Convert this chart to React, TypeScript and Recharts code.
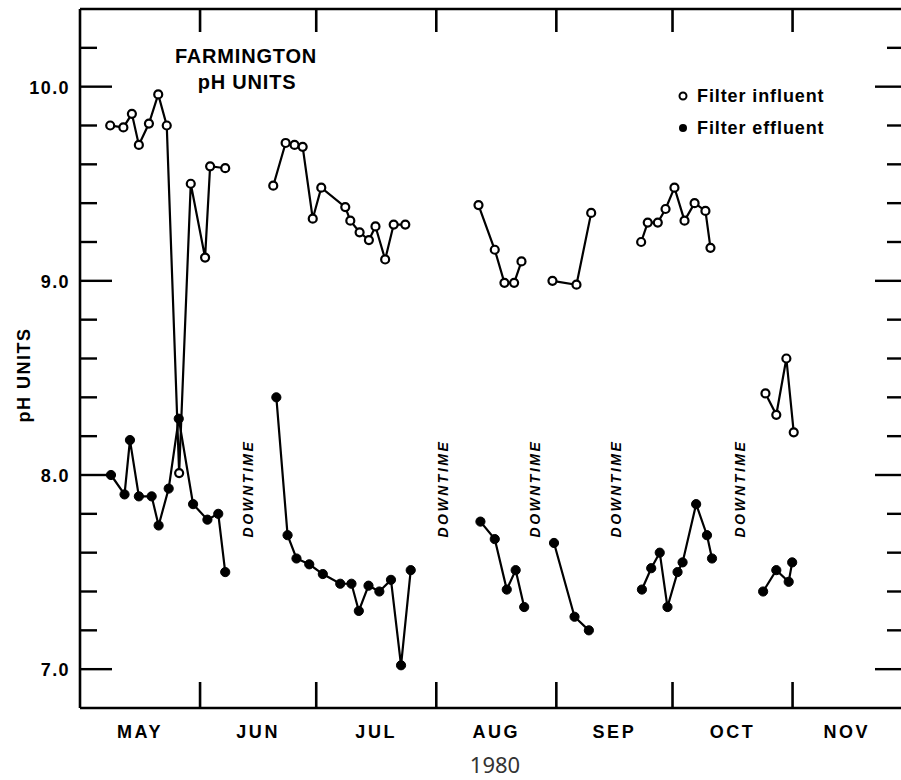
import React from 'react';
import { LineChart, Line, XAxis, YAxis, ReferenceLine, ReferenceDot } from 'recharts';

// ---- Data (day = days since May 1, 1980) ----
const influentMay = [
  { day: 7.8, ph: 9.8 }, { day: 11.2, ph: 9.79 }, { day: 13.4, ph: 9.86 }, { day: 15.2, ph: 9.7 },
  { day: 17.8, ph: 9.81 }, { day: 20.2, ph: 9.96 }, { day: 22.4, ph: 9.8 }, { day: 25.6, ph: 8.01 },
  { day: 28.6, ph: 9.5 }, { day: 32.3, ph: 9.12 }, { day: 33.6, ph: 9.59 }, { day: 37.5, ph: 9.58 },
];
const influentJunJul = [
  { day: 49.9, ph: 9.49 }, { day: 53.1, ph: 9.71 }, { day: 55.4, ph: 9.7 }, { day: 57.5, ph: 9.69 },
  { day: 60.1, ph: 9.32 }, { day: 62.3, ph: 9.48 }, { day: 68.5, ph: 9.38 }, { day: 69.8, ph: 9.31 },
  { day: 72.2, ph: 9.25 }, { day: 74.6, ph: 9.21 }, { day: 76.3, ph: 9.28 }, { day: 78.8, ph: 9.11 },
  { day: 81.0, ph: 9.29 }, { day: 84.0, ph: 9.29 },
];
const influentAug = [
  { day: 102.9, ph: 9.39 }, { day: 107.1, ph: 9.16 }, { day: 109.6, ph: 8.99 }, { day: 112.1, ph: 8.99 },
  { day: 114.0, ph: 9.1 },
];
const influentSep = [
  { day: 122.0, ph: 9.0 }, { day: 128.2, ph: 8.98 }, { day: 132.0, ph: 9.35 },
];
const influentSepOct = [
  { day: 144.9, ph: 9.2 }, { day: 146.6, ph: 9.3 }, { day: 149.2, ph: 9.3 }, { day: 151.2, ph: 9.37 },
  { day: 153.5, ph: 9.48 }, { day: 156.1, ph: 9.31 }, { day: 158.7, ph: 9.4 }, { day: 161.5, ph: 9.36 },
  { day: 162.8, ph: 9.17 },
];
const influentOct = [
  { day: 177.0, ph: 8.42 }, { day: 179.8, ph: 8.31 }, { day: 182.4, ph: 8.6 }, { day: 184.3, ph: 8.22 },
];

const effluentMay = [
  { day: 8.0, ph: 8.0 }, { day: 11.5, ph: 7.9 }, { day: 12.9, ph: 8.18 }, { day: 15.2, ph: 7.89 },
  { day: 18.5, ph: 7.89 }, { day: 20.3, ph: 7.74 }, { day: 22.9, ph: 7.93 }, { day: 25.5, ph: 8.29 },
  { day: 29.2, ph: 7.85 }, { day: 32.9, ph: 7.77 }, { day: 35.7, ph: 7.8 }, { day: 37.5, ph: 7.5 },
];
const effluentJunJul = [
  { day: 50.7, ph: 8.4 }, { day: 53.6, ph: 7.69 }, { day: 55.9, ph: 7.57 }, { day: 59.2, ph: 7.54 },
  { day: 62.7, ph: 7.49 }, { day: 67.2, ph: 7.44 }, { day: 70.1, ph: 7.44 }, { day: 72.0, ph: 7.3 },
  { day: 74.5, ph: 7.43 }, { day: 77.3, ph: 7.4 }, { day: 80.3, ph: 7.46 }, { day: 82.9, ph: 7.02 },
  { day: 85.4, ph: 7.51 },
];
const effluentAug = [
  { day: 103.4, ph: 7.76 }, { day: 107.1, ph: 7.67 }, { day: 110.2, ph: 7.41 }, { day: 112.5, ph: 7.51 },
  { day: 114.7, ph: 7.32 },
];
const effluentSep = [
  { day: 122.4, ph: 7.65 }, { day: 127.7, ph: 7.27 }, { day: 131.4, ph: 7.2 },
];
const effluentSepOct = [
  { day: 145.1, ph: 7.41 }, { day: 147.5, ph: 7.52 }, { day: 149.7, ph: 7.6 }, { day: 151.7, ph: 7.32 },
  { day: 154.3, ph: 7.5 }, { day: 155.6, ph: 7.55 }, { day: 159.1, ph: 7.85 }, { day: 161.9, ph: 7.69 },
  { day: 163.2, ph: 7.57 },
];
const effluentOct = [
  { day: 176.4, ph: 7.4 }, { day: 179.8, ph: 7.51 }, { day: 183.0, ph: 7.45 }, { day: 183.9, ph: 7.55 },
];

const influentSegments = [influentMay, influentJunJul, influentAug, influentSep, influentSepOct, influentOct];
const effluentSegments = [effluentMay, effluentJunJul, effluentAug, effluentSep, effluentSepOct, effluentOct];

const monthStarts = [31, 61, 92, 123, 153, 184];
const monthMids = [15.5, 46, 76.5, 107.5, 138, 168.5, 198];
const monthLabels = ['MAY', 'JUN', 'JUL', 'AUG', 'SEP', 'OCT', 'NOV'];
const xDomain = [0, 212];

const yTicks = [7.0, 7.2, 7.4, 7.6, 7.8, 8.0, 8.2, 8.4, 8.6, 8.8, 9.0, 9.2, 9.4, 9.6, 9.8, 10.0, 10.2];
const yLabelled = [7.0, 8.0, 9.0, 10.0];
const yDomain = [6.8, 10.4];

const downtimeDays = [43.4, 93.8, 117.6, 138.5, 170.5];
const downtimeLevel = 7.93;

// ---- Layout ----
const W = 901;
const H = 780;
const PLOT_TOP = 9;
const PLOT_RIGHT = 901;
const FONT = '"Liberation Sans", Arial, Helvetica, sans-serif';

const isLabelled = (v: number) => yLabelled.some((l) => Math.abs(l - v) < 1e-6);

const YTick = (props: any) => {
  const { x, y, payload } = props;
  const v = payload.value as number;
  const major = isLabelled(v);
  const lenL = major ? 32 : 17;
  const lenR = major ? 26 : 14;
  return (
    <g>
      <line x1={x} y1={y} x2={x + lenL} y2={y} stroke="#000" strokeWidth={2.4} />
      <line x1={PLOT_RIGHT - lenR} y1={y} x2={PLOT_RIGHT} y2={y} stroke="#000" strokeWidth={2.4} />
      {major && (
        <text x={x - 10} y={y + 7} textAnchor="end" fontFamily={FONT} fontWeight="bold" fontSize={18}
          letterSpacing={1.4} fill="#000">
          {v.toFixed(1)}
        </text>
      )}
    </g>
  );
};

const XTick = (props: any) => {
  const { x, y, payload } = props;
  const v = payload.value as number;
  const mi = monthMids.indexOf(v);
  if (mi >= 0) {
    return (
      <text x={x} y={y + 30} textAnchor="middle" fontFamily={FONT} fontWeight="bold" fontSize={18}
        letterSpacing={2.6} fill="#000">
        {monthLabels[mi]}
      </text>
    );
  }
  return (
    <g>
      <line x1={x} y1={y} x2={x} y2={y - 26} stroke="#000" strokeWidth={2.6} />
      <line x1={x} y1={PLOT_TOP} x2={x} y2={PLOT_TOP + 23} stroke="#000" strokeWidth={2.6} />
    </g>
  );
};

const DowntimeLabel = (props: any) => {
  const { cx, cy } = props;
  return (
    <text x={cx} y={cy} transform={`rotate(-90, ${cx}, ${cy})`} textAnchor="middle" dominantBaseline="central"
      fontFamily={FONT} fontWeight="bold" fontStyle="italic" fontSize={14} letterSpacing={2.5} fill="#000">
      DOWNTIME
    </text>
  );
};

export default function App() {
  return (
    <div style={{ position: 'absolute', left: 0, top: 0, width: W, height: H, background: '#fff' }}>
      <LineChart width={W} height={H} margin={{ top: PLOT_TOP, right: 0, bottom: 0, left: 0 }}>
        <XAxis
          type="number"
          dataKey="day"
          domain={xDomain}
          ticks={[...monthStarts, ...monthMids]}
          interval={0}
          height={72}
          tickSize={0}
          tickMargin={0}
          tick={<XTick />}
          axisLine={{ stroke: '#000', strokeWidth: 2.6 }}
          allowDataOverflow
        />
        <YAxis
          type="number"
          domain={yDomain}
          ticks={yTicks}
          interval={0}
          width={80}
          tickSize={0}
          tickMargin={0}
          tick={<YTick />}
          axisLine={{ stroke: '#000', strokeWidth: 2.6 }}
          allowDataOverflow
        />
        <ReferenceLine y={yDomain[1]} stroke="#000" strokeWidth={2.6} />
        {downtimeDays.map((d, i) => (
          <ReferenceDot key={`dt${i}`} x={d} y={downtimeLevel} r={0} shape={<DowntimeLabel />} />
        ))}
        {effluentSegments.map((seg, i) => (
          <Line
            key={`eff${i}`}
            data={seg}
            dataKey="ph"
            type="linear"
            stroke="#000"
            strokeWidth={2.2}
            dot={{ r: 4.6, fill: '#000', stroke: '#000', strokeWidth: 1 }}
            activeDot={false}
            isAnimationActive={false}
          />
        ))}
        {influentSegments.map((seg, i) => (
          <Line
            key={`inf${i}`}
            data={seg}
            dataKey="ph"
            type="linear"
            stroke="#000"
            strokeWidth={2.2}
            dot={{ r: 4, fill: '#fff', stroke: '#000', strokeWidth: 2.2 }}
            activeDot={false}
            isAnimationActive={false}
          />
        ))}
      </LineChart>
      <svg width={W} height={H} style={{ position: 'absolute', left: 0, top: 0, pointerEvents: 'none' }}>
        <text x={246} y={63} textAnchor="middle" fontFamily={FONT} fontWeight="bold" fontSize={20} letterSpacing={0.8}>
          FARMINGTON
        </text>
        <text x={247} y={89} textAnchor="middle" fontFamily={FONT} fontWeight="bold" fontSize={20} letterSpacing={0.8}>
          pH UNITS
        </text>
        <circle cx={683} cy={96} r={3.5} fill="#fff" stroke="#000" strokeWidth={2} />
        <text x={697} y={102} fontFamily={FONT} fontWeight="bold" fontSize={18} letterSpacing={0.9}>
          Filter influent
        </text>
        <circle cx={683} cy={128} r={4} fill="#000" />
        <text x={697} y={134} fontFamily={FONT} fontWeight="bold" fontSize={18} letterSpacing={0.9}>
          Filter effluent
        </text>
        <text x={24} y={375} transform="rotate(-90, 24, 375)" textAnchor="middle" dominantBaseline="central"
          fontFamily={FONT} fontWeight="bold" fontSize={18} letterSpacing={1.5}>
          pH UNITS
        </text>
        <text x={495} y={773} textAnchor="middle" fontFamily='"Noto Sans", "Open Sans", sans-serif' fontSize={22} fill="#333">
          1980
        </text>
      </svg>
    </div>
  );
}
